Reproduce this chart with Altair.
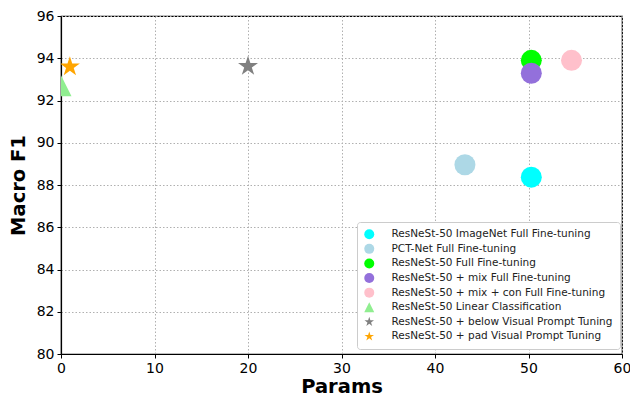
import altair as alt
import pandas as pd

series = [
    "ResNeSt-50 ImageNet Full Fine-tuning",
    "PCT-Net Full Fine-tuning",
    "ResNeSt-50 Full Fine-tuning",
    "ResNeSt-50 + mix Full Fine-tuning",
    "ResNeSt-50 + mix + con Full Fine-tuning",
    "ResNeSt-50 Linear Classification",
    "ResNeSt-50 + below Visual Prompt Tuning",
    "ResNeSt-50 + pad Visual Prompt Tuning",
]
params = [50.3, 43.2, 50.3, 50.3, 54.6, 0.0, 20.0, 0.95]
macro_f1 = [88.37, 88.96, 93.9, 93.29, 93.9, 92.7, 93.62, 93.6]
colors = ["#00ffff", "#add8e6", "#00ff00", "#9370db", "#ffc0cb", "#90ee90", "#808080", "#ffa500"]

STAR = "M0,-1L-0.225,-0.309L-0.951,-0.309L-0.363,0.118L-0.588,0.809L0,0.382L0.588,0.809L0.363,0.118L0.951,-0.309L0.225,-0.309Z"
TRI = "M0,-1L-1,1L1,1Z"
shapes = ["circle", "circle", "circle", "circle", "circle", TRI, STAR, STAR]

df = pd.DataFrame({"series": series, "Params": params, "Macro F1": macro_f1})

legend = alt.Legend(
    title=None,
    orient="none",
    legendX=296,
    legendY=206,
    labelFont="DejaVu Sans",
    labelFontSize=10.5,
    labelColor="#222222",
    symbolSize=100,
    symbolStrokeWidth=0,
    rowPadding=3.6,
    labelOffset=17,
    padding=7,
    strokeColor="#cccccc",
    fillColor="white",
    cornerRadius=3,
    labelLimit=400,
)

chart = alt.Chart(df).mark_point(filled=True, opacity=1, size=441, clip=True).encode(
    x=alt.X("Params:Q", scale=alt.Scale(domain=[0, 60], nice=False),
            axis=alt.Axis(values=[0, 10, 20, 30, 40, 50, 60], title="Params", labelFlush=False)),
    y=alt.Y("Macro F1:Q", scale=alt.Scale(domain=[80, 96], nice=False, zero=False),
            axis=alt.Axis(values=[80, 82, 84, 86, 88, 90, 92, 94, 96], title="Macro F1", labelFlush=False)),
    color=alt.Color("series:N", scale=alt.Scale(domain=series, range=colors), legend=legend, sort=series),
    shape=alt.Shape("series:N", scale=alt.Scale(domain=series, range=shapes), legend=legend, sort=series),
).properties(
    width=561,
    height=338,
    autosize="none",
    background="white",
    padding={"left": 53, "top": 8, "right": 8, "bottom": 42},
).configure_view(
    stroke="black", strokeWidth=1.2
).configure_axis(
    labelFont="DejaVu Sans",
    labelFontSize=14,
    labelColor="black",
    titleFont="DejaVu Sans",
    titleFontSize=19.5,
    titleFontWeight="bold",
    titleColor="black",
    domainColor="black",
    domainWidth=1.2,
    tickColor="black",
    tickSize=4,
    tickWidth=1,
    labelPadding=3,
    grid=True,
    gridColor="#b0b0b0",
    gridDash=[1.5, 2],
    gridWidth=1,
).configure_axisX(
    titlePadding=2,
).configure_axisY(
    titlePadding=8,
)

chart.save("out.html", embed_options={"renderer": "svg", "actions": False})
